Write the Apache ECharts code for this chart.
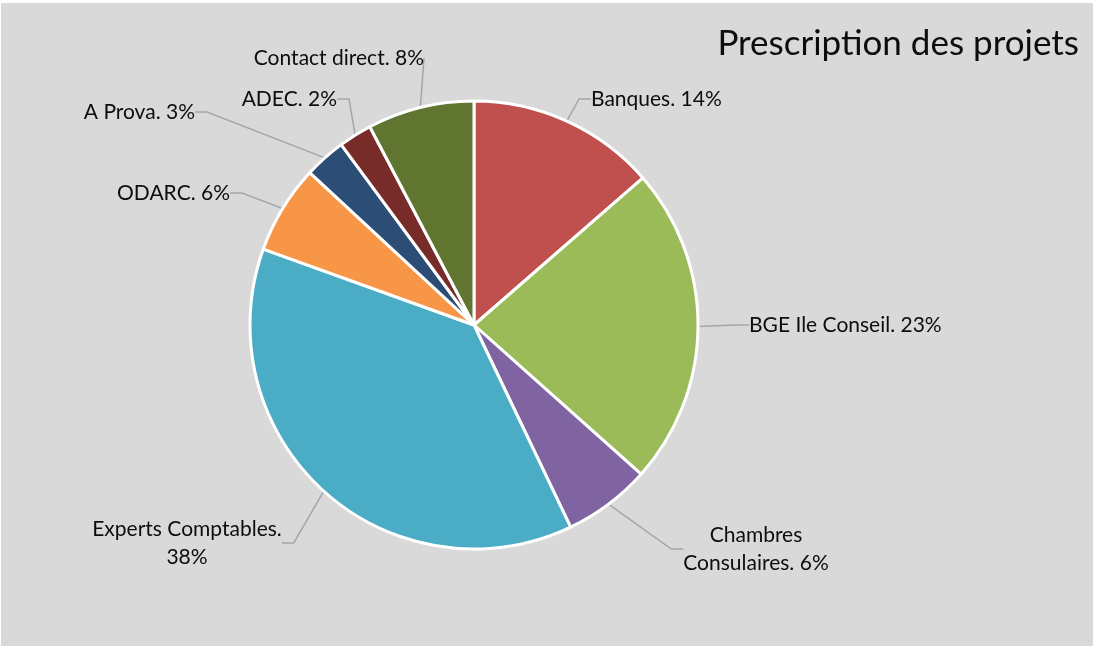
<!DOCTYPE html>
<html>
<head>
<meta charset="utf-8">
<script src="https://cdn.jsdelivr.net/npm/echarts@6/dist/echarts.min.js"></script>
<style>
    html, body { margin: 0; padding: 0; background: #ffffff; }
    #chart { position: absolute; left: 1px; top: 3px; width: 1092px; height: 643px; background: #d9d9d9; }
</style>
</head>
<body>
<div id="chart"></div>
<script>
// données du graphique
var names = ['Banques', 'BGE Ile Conseil', 'Chambres Consulaires', 'Experts Comptables', 'ODARC', 'A Prova', 'ADEC', 'Contact direct'];
var values = [13.6, 23, 6.3, 37.6, 6.4, 3, 2.4, 7.7];
var colors = ['#c0504d', '#9bbb59', '#8064a2', '#4bacc6', '#f79646', '#2c4d75', '#772c2a', '#5f7530'];

// position des étiquettes (style Excel)
var labelPos = [
    {x: 590, y: 96, align: 'left'},
    {x: 748, y: 322, align: 'left'},
    {x: 755, y: 546, align: 'center'},
    {x: 186, y: 540, align: 'center'},
    {x: 229, y: 190, align: 'right'},
    {x: 194, y: 109, align: 'right'},
    {x: 336, y: 96, align: 'right'},
    {x: 423, y: 55, align: 'right'}
];
// retour à la ligne : 'name' = dans le nom, 'pct' = avant le pourcentage
var labelBreak = {2: 'name', 3: 'pct'};

var chart = echarts.init(document.getElementById('chart'));

var pieData = [];
for (var i = 0; i < names.length; i++) {
    pieData.push({name: names[i], value: values[i], itemStyle: {color: colors[i]}});
}

var option = {
    backgroundColor: '#d9d9d9',
    animation: false,
    title: {
        text: 'Prescription des projets',
        right: 9,
        top: 18,
        textStyle: {fontFamily: 'Lato', fontSize: 35, fontWeight: 'normal', color: '#0d0d0d'}
    },
    series: [
        {
            type: 'pie',
            center: [473, 322],
            radius: 224,
            startAngle: 90,
            clockwise: true,
            itemStyle: {borderColor: '#ffffff', borderWidth: 3},
            label: {
                show: true,
                position: 'outside',
                fontFamily: 'Lato',
                fontSize: 21,
                lineHeight: 28,
                color: '#0d0d0d',
                formatter: function (p) {
                    var pct = Math.round(p.percent) + '%';
                    var b = labelBreak[p.dataIndex];
                    if (b === 'name') {
                        return p.name.replace(' ', '\n') + '. ' + pct;
                    }
                    if (b === 'pct') {
                        return p.name + '.\n' + pct;
                    }
                    return p.name + '. ' + pct;
                }
            },
            labelLine: {
                show: true,
                length: 15,
                length2: 12,
                lineStyle: {color: '#a6a6a6', width: 1.5}
            },
            labelLayout: function (params) {
                var pos = labelPos[params.dataIndex];
                return {x: pos.x, y: pos.y, align: pos.align, verticalAlign: 'middle'};
            },
            emphasis: {disabled: true},
            data: pieData
        }
    ]
};

chart.setOption(option, true);
</script>
</body>
</html>
